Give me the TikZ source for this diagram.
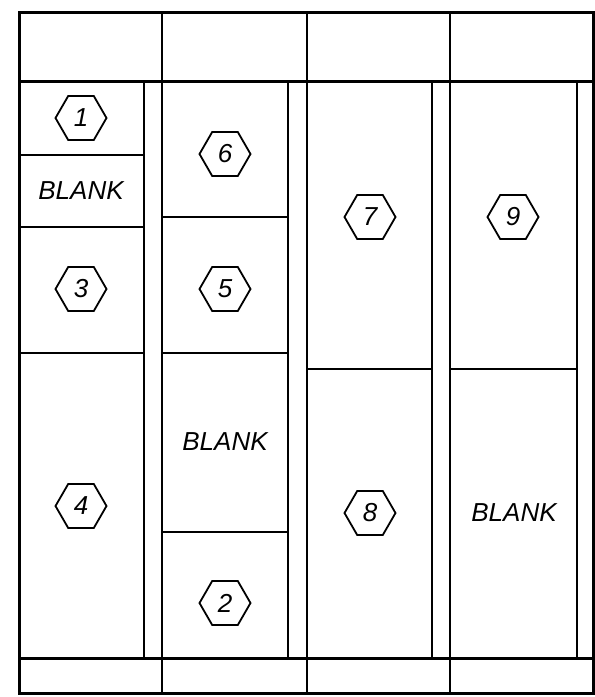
\documentclass[tikz,border=0pt]{standalone}
\usepackage{fontspec}
\setmainfont{Liberation Sans}
\usetikzlibrary{shapes.geometric}

\begin{document}
\begin{tikzpicture}[x=1pt, y=-1pt,
  frm/.style={line width=3pt},
  bxl/.style={line width=2.5pt},
  hx/.style={draw, regular polygon, regular polygon sides=6, minimum size=51pt,
    inner sep=0pt, line width=1.8pt, font=\fontsize{26}{26}\selectfont\itshape},
  blk/.style={font=\fontsize{26}{26}\selectfont\itshape}]
\useasboundingbox (0,0) rectangle (595,697);
% frame, top and bottom strips
\draw[frm] (19,12) rectangle (593,693);
\draw[frm] (19,81) -- (593,81);
\draw[frm] (19,658) -- (593,658);
\foreach \x in {162,307,450}
  \draw[bxl] (\x,12) -- (\x,693);
% right edges of the columns
\foreach \x in {144,288,432,577}
  \draw[bxl] (\x,81) -- (\x,658);
% column 1
\foreach \y in {155,227,353}
  \draw[bxl] (19,\y) -- (144,\y);
% column 2
\foreach \y in {217,353,532}
  \draw[bxl] (162,\y) -- (288,\y);
% columns 3 and 4
\draw[bxl] (307,369) -- (432,369);
\draw[bxl] (450,369) -- (577,369);

\node[hx] (p1) at (81,118) {1};
\node[blk] (b1) at (81,191) {BLANK};
\node[hx] (p3) at (81,289) {3};
\node[hx] (p4) at (81,506) {4};
\node[hx] (p6) at (225,154) {6};
\node[hx] (p5) at (225,289) {5};
\node[blk] (b2) at (225,442) {BLANK};
\node[hx] (p2) at (225,603) {2};
\node[hx] (p7) at (370,217) {7};
\node[hx] (p8) at (370,513) {8};
\node[hx] (p9) at (513,217) {9};
\node[blk] (b3) at (514,513) {BLANK};
\end{tikzpicture}
\end{document}
